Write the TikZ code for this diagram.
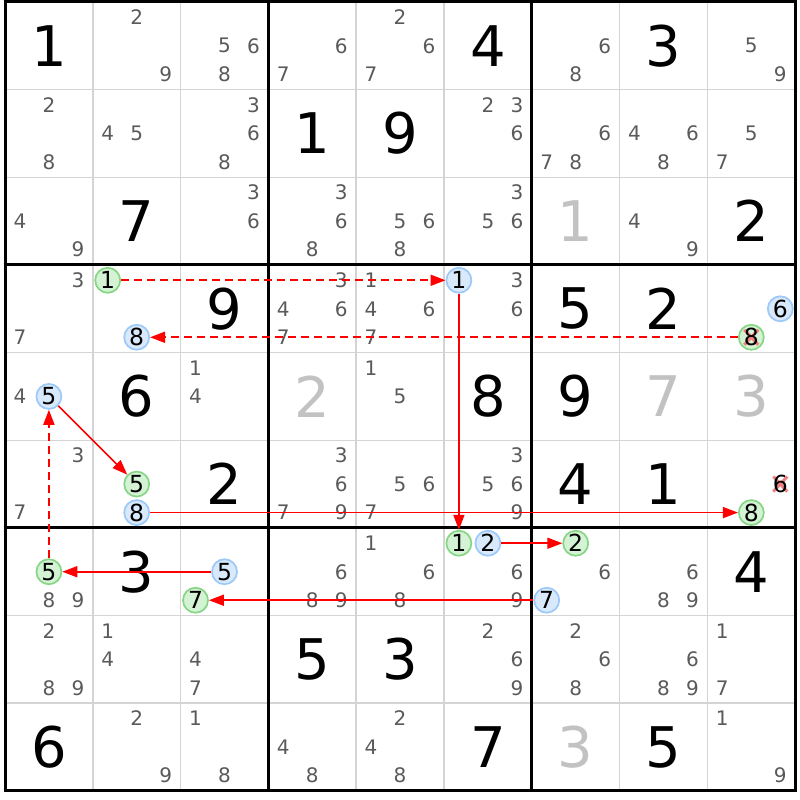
\documentclass[tikz,border=0pt]{standalone}
\usepackage{fontspec}
\setmainfont{DejaVu Sans}
\usetikzlibrary{arrows.meta}
\definecolor{candgray}{HTML}{5A5A5A}
\definecolor{solvegray}{HTML}{C2C2C2}
\definecolor{thingray}{HTML}{D4D4D4}
\definecolor{greenline}{HTML}{86D686}
\definecolor{greenfill}{HTML}{D4F2D4}
\definecolor{blueline}{HTML}{9CC9F7}
\definecolor{bluefill}{HTML}{D8E9FB}
\definecolor{xpink}{HTML}{F08080}
\definecolor{arrred}{HTML}{FF0000}
\newcommand\CPos[3]{\pgfmathsetmacro\px{5+87.8*(#2-0.5)+29*(mod(#3-1,3)-1)}\pgfmathsetmacro\py{2+87.65*(#1-0.5)+28.5*(floor((#3-1)/3)-1)}}
\newcommand\Cands[3]{\foreach \d in {#3}{\CPos{#1}{#2}{\d}\node[cand] (n#1#2\d) at (\px,\py) {\d};}}
\newcommand\CandC[4]{\CPos{#2}{#3}{#4}\node[#1] (n#2#3#4) at (\px,\py) {#4};}
\newcommand\Giv[4]{\pgfmathsetmacro\px{5+87.8*(#3-0.5)}\pgfmathsetmacro\py{2+87.65*(#2-0.5)}\node[#1] (g#2#3) at (\px,\py) {#4};}
\newcommand\XMark[3]{\CPos{#1}{#2}{#3}\draw[xmk] (\px-7,\py-7.5) -- (\px+7,\py+7.5) (\px-7,\py+7.5) -- (\px+7,\py-7.5);}
\begin{document}
\begin{tikzpicture}[x=1pt,y=-1pt,
  thinl/.style={thingray, line width=1.5pt},
  boxl/.style={black, line width=3pt},
  cand/.style={text=candgray, font=\fontsize{20}{20}\selectfont, inner sep=0pt},
  giv/.style={text=black, font=\fontsize{56}{56}\selectfont, inner sep=0pt},
  solv/.style={giv, text=solvegray},
  circtext/.style={inner sep=0pt, text=black, font=\fontsize{23.5}{23.5}\selectfont},
  circbase/.style={circle, minimum size=25pt, inner sep=0pt, line width=1.7pt, circtext},
  gcirc/.style={circbase, draw=greenline, fill=greenfill},
  bcirc/.style={circbase, draw=blueline, fill=bluefill},
  xmk/.style={xpink, line width=3pt},
  arr/.style={arrred, line width=1.6pt, -{Triangle[length=15pt,width=11pt]}},
  darr/.style={arrred, line width=1.8pt, dash pattern=on 8pt off 5pt, -{Triangle[length=15pt,width=11pt]}}
]
\useasboundingbox (0,0) rectangle (800,800);
\fill[white] (0,0) rectangle (800,800);
% grid
\foreach \i in {1,2,4,5,7,8} {
  \draw[thinl] (5+87.8*\i,2) -- (5+87.8*\i,790.85);
  \draw[thinl] (5,2+87.65*\i) -- (795.2,2+87.65*\i);
}
\foreach \i in {0,3,6,9} {
  \draw[boxl] (5+87.8*\i,0.5) -- (5+87.8*\i,792.35);
  \draw[boxl] (3.5,2+87.65*\i) -- (796.7,2+87.65*\i);
}
% givens
\Giv{giv}{1}{1}{1}\Giv{giv}{1}{6}{4}\Giv{giv}{1}{8}{3}
\Giv{giv}{2}{4}{1}\Giv{giv}{2}{5}{9}
\Giv{giv}{3}{2}{7}\Giv{giv}{3}{9}{2}
\Giv{giv}{4}{3}{9}\Giv{giv}{4}{7}{5}\Giv{giv}{4}{8}{2}
\Giv{giv}{5}{2}{6}\Giv{giv}{5}{6}{8}\Giv{giv}{5}{7}{9}
\Giv{giv}{6}{3}{2}\Giv{giv}{6}{7}{4}\Giv{giv}{6}{8}{1}
\Giv{giv}{7}{2}{3}\Giv{giv}{7}{9}{4}
\Giv{giv}{8}{4}{5}\Giv{giv}{8}{5}{3}
\Giv{giv}{9}{1}{6}\Giv{giv}{9}{6}{7}\Giv{giv}{9}{8}{5}
% solved (gray)
\Giv{solv}{3}{7}{1}\Giv{solv}{5}{4}{2}\Giv{solv}{5}{8}{7}\Giv{solv}{5}{9}{3}\Giv{solv}{9}{7}{3}
% candidates
\Cands{1}{2}{2,9}\Cands{1}{3}{5,6,8}\Cands{1}{4}{6,7}\Cands{1}{5}{2,6,7}\Cands{1}{7}{6,8}\Cands{1}{9}{5,9}
\Cands{2}{1}{2,8}\Cands{2}{2}{4,5}\Cands{2}{3}{3,6,8}\Cands{2}{6}{2,3,6}\Cands{2}{7}{6,7,8}\Cands{2}{8}{4,6,8}\Cands{2}{9}{5,7}
\Cands{3}{1}{4,9}\Cands{3}{3}{3,6}\Cands{3}{4}{3,6,8}\Cands{3}{5}{5,6,8}\Cands{3}{6}{3,5,6}\Cands{3}{8}{4,9}
\Cands{4}{1}{3,7}\Cands{4}{4}{3,4,6,7}\Cands{4}{5}{1,4,6,7}\Cands{4}{6}{3,6}
\Cands{5}{1}{4}\Cands{5}{3}{1,4}\Cands{5}{5}{1,5}
\Cands{6}{1}{3,7}\Cands{6}{4}{3,6,7,9}\Cands{6}{5}{5,6,7}\Cands{6}{6}{3,5,6,9}
\Cands{7}{1}{8,9}\Cands{7}{4}{6,8,9}\Cands{7}{5}{1,6,8}\Cands{7}{6}{6,9}\Cands{7}{7}{6}\Cands{7}{8}{6,8,9}
\Cands{8}{1}{2,8,9}\Cands{8}{2}{1,4}\Cands{8}{3}{4,7}\Cands{8}{6}{2,6,9}\Cands{8}{7}{2,6,8}\Cands{8}{8}{6,8,9}\Cands{8}{9}{1,7}
\Cands{9}{2}{2,9}\Cands{9}{3}{1,8}\Cands{9}{4}{4,8}\Cands{9}{5}{2,4,8}\Cands{9}{9}{1,9}
% crossed candidate r6c9 6
\XMark{6}{9}{6}
\CandC{circtext}{6}{9}{6}
% circled candidates
\CandC{gcirc}{4}{2}{1}\CandC{bcirc}{4}{2}{8}
\CandC{bcirc}{4}{6}{1}
\CandC{bcirc}{4}{9}{6}
\CPos{4}{9}{8}\node[gcirc] (n498) at (\px,\py) {};
\XMark{4}{9}{8}
\CPos{4}{9}{8}\node[circtext] (t498) at (\px,\py) {8};
\CandC{bcirc}{5}{1}{5}
\CandC{gcirc}{6}{2}{5}\CandC{bcirc}{6}{2}{8}
\CandC{gcirc}{6}{9}{8}
\CandC{gcirc}{7}{1}{5}
\CandC{bcirc}{7}{3}{5}\CandC{gcirc}{7}{3}{7}
\CandC{gcirc}{7}{6}{1}\CandC{bcirc}{7}{6}{2}
\CandC{gcirc}{7}{7}{2}\CandC{bcirc}{7}{7}{7}
% connectors
\draw[darr] (n421) -- (n461);
\draw[darr] (n498) -- (n428);
\draw[arr] (n461) -- (n761);
\draw[arr] (n515) -- (n625);
\draw[darr] (n715) -- (n515);
\draw[arr] (n628) -- (n698);
\draw[arr] (n735) -- (n715);
\draw[arr] (n777) -- (n737);
\draw[arr] (n762) -- (n772);
\end{tikzpicture}
\end{document}
